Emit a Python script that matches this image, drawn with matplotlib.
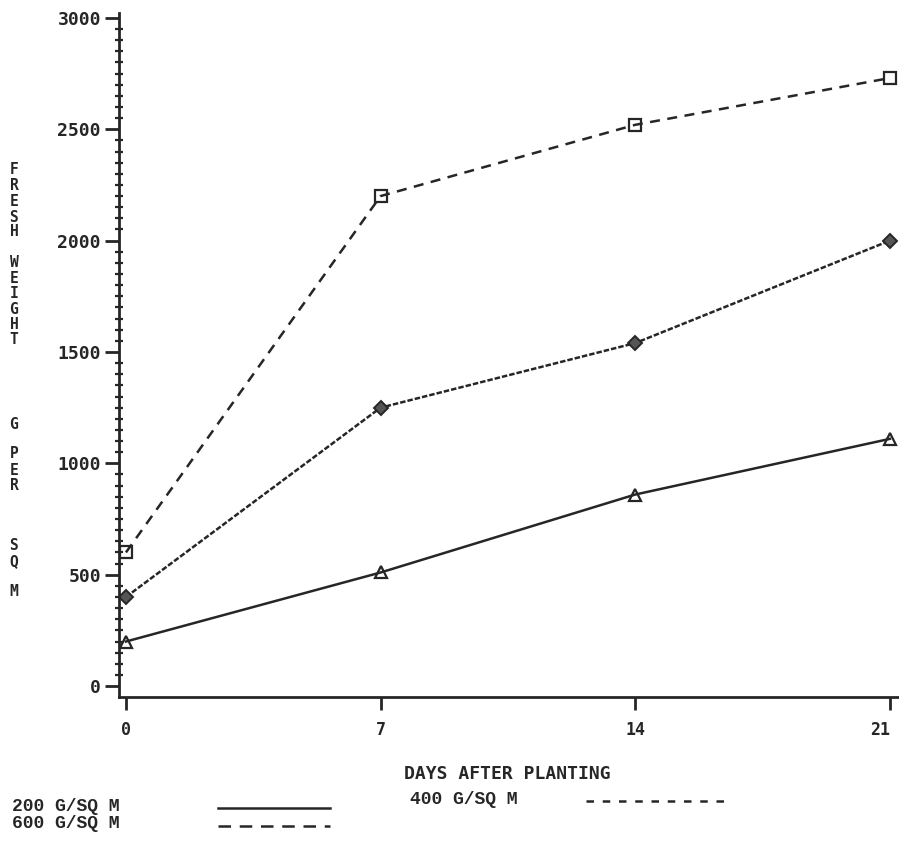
import numpy as np
import matplotlib.pyplot as plt
from matplotlib.lines import Line2D
from matplotlib.ticker import MultipleLocator

# data
days = [0, 7, 14, 21]
w200 = [200, 510, 860, 1110]
w400 = [400, 1250, 1540, 2000]
w600 = [600, 2200, 2520, 2730]
xticks = [0, 7, 14, 21]
yticks = [0, 500, 1000, 1500, 2000, 2500, 3000]

ink = '#262626'
mono = 'DejaVu Sans Mono'

fig = plt.figure(figsize=(8.99, 8.55), dpi=100)
ax = fig.add_axes([0.1324, 0.1848, 0.8676, 0.80])

ax.plot(days, w200, '-', color=ink, lw=1.8, marker='^', ms=8,
        mfc='none', mec=ink, mew=1.6)
ax.plot(days, w400, color=ink, lw=1.8, dashes=(2.2, 0.8), marker='D', ms=7,
        mfc='#555555', mec=ink, mew=1.4)
ax.plot(days, w600, color=ink, lw=1.8, dashes=(4, 3), marker='s', ms=8,
        mfc='none', mec=ink, mew=1.6)

ax.set_xlim(-0.19, 21.25)
ax.set_ylim(-49, 3022)
ax.set_xticks(xticks)
ax.set_yticks(yticks)
ax.yaxis.set_minor_locator(MultipleLocator(50))

for s in ['top', 'right']:
    ax.spines[s].set_visible(False)
for s in ['left', 'bottom']:
    ax.spines[s].set_linewidth(2)
    ax.spines[s].set_color(ink)

ax.tick_params(axis='x', direction='out', length=9, width=2, color=ink, pad=8,
               labelsize=12, labelcolor=ink)
ax.tick_params(axis='y', which='major', direction='out', length=10, width=2,
               color=ink, pad=3, labelsize=13, labelcolor=ink)
ax.tick_params(axis='y', which='minor', direction='inout', length=6, width=1.6,
               color=ink)
for lab in ax.get_xticklabels() + ax.get_yticklabels():
    lab.set_fontfamily(mono)
    lab.set_fontweight('bold')
# keep the last day label inside the picture
ax.get_xticklabels()[-1].set_horizontalalignment('right')
ax.get_xticklabels()[-1].set_x(21.2)

# x label
fig.text(507 / 899, 1 - 774 / 855, 'DAYS AFTER PLANTING', ha='center', va='center',
         fontsize=13, fontfamily=mono, fontweight='bold', color=ink)

# stacked y label letters
letters = list('FRESH') + list('WEIGHT') + ['G'] + list('PER') + list('SQ') + ['M']
ypix = [170, 186, 201, 217, 232,
        262, 278, 293, 309, 324, 339,
        424,
        454, 470, 485,
        546, 562,
        591]
for ch, yp in zip(letters, ypix):
    fig.text(14 / 899, 1 - yp / 855, ch, ha='center', va='center', fontsize=10.5,
             fontfamily=mono, fontweight='bold', color=ink)

# legend below the chart
leg_font = dict(fontsize=13, fontfamily='Liberation Mono', fontweight='bold',
                color=ink, va='center', ha='left')
fig.text(12 / 899, 1 - 806 / 855, '200 G/SQ M', **leg_font)
fig.text(12 / 899, 1 - 823 / 855, '600 G/SQ M', **leg_font)
fig.text(410 / 899, 1 - 799 / 855, '400 G/SQ M', **leg_font)
fig.add_artist(Line2D([218 / 899, 330 / 899], [1 - 808 / 855] * 2, color=ink, lw=1.8))
fig.add_artist(Line2D([218 / 899, 330 / 899], [1 - 826 / 855] * 2, color=ink, lw=1.8,
                      dashes=(5, 3.5)))
fig.add_artist(Line2D([586 / 899, 725 / 899], [1 - 801 / 855] * 2, color=ink, lw=1.8,
                      dashes=(3, 3.5)))

fig.savefig('out.png', dpi=100)
